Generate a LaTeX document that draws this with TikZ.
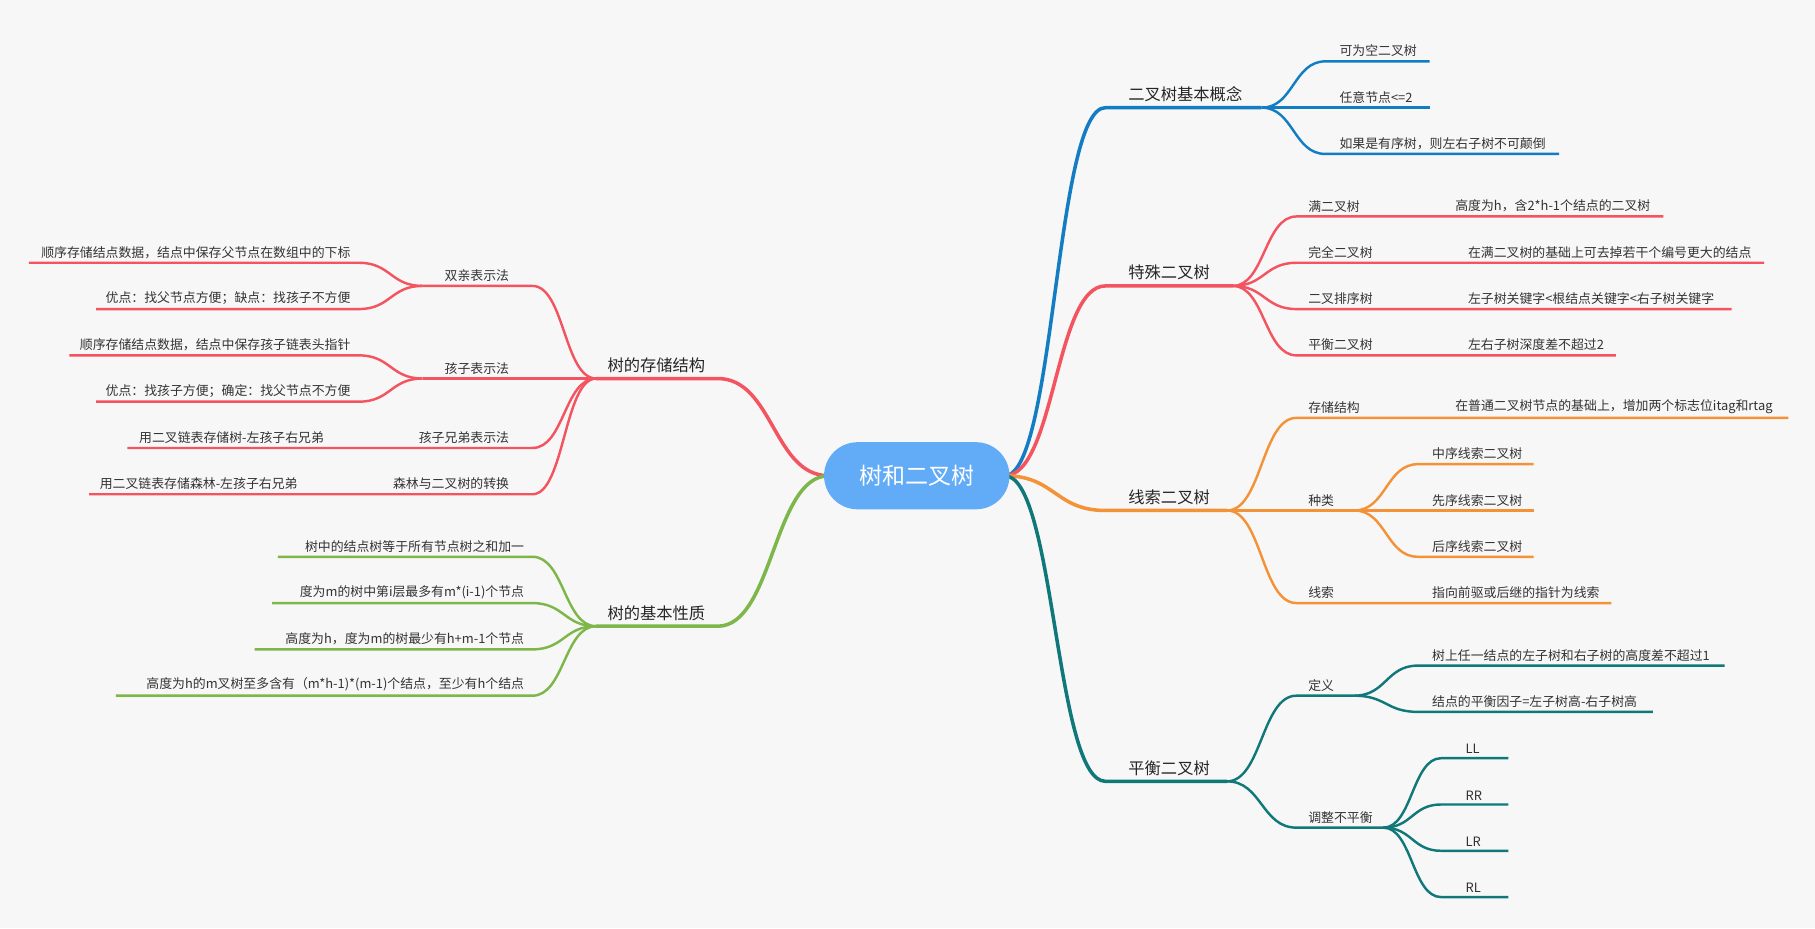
\documentclass[tikz,border=0pt]{standalone}
\usepackage{fontspec}
\setmainfont{Noto Sans CJK SC}
\usetikzlibrary{calc,shapes.misc}
\definecolor{cblue}{HTML}{137DC4}
\definecolor{cred}{HTML}{F4545F}
\definecolor{corange}{HTML}{F39237}
\definecolor{cteal}{HTML}{11787A}
\definecolor{cgreen}{HTML}{7DB649}
\definecolor{croot}{HTML}{62ABF6}
\definecolor{cbg}{HTML}{F7F7F7}
% leaf: colour, name, parent, start x, y, end x
\newcommand{\lf}[6]{%
  \coordinate (#2s) at (#4,#5); \coordinate (#2e) at (#6,#5);
  \draw[#1] let \p1=(#3), \p2=(#2s) in (\p1)
    .. controls (0.5*\x1+0.5*\x2,\y1) and (0.5*\x1+0.5*\x2,\y2) .. (\p2) -- (#2e);}
\begin{document}
\begin{tikzpicture}[x=0.03cm,y=-0.03cm,
    thickline/.style={line width=2.6pt},
    thinline/.style={line width=1.8pt},
    rtxt/.style={anchor=south west,inner sep=0pt,yshift=3pt,font=\fontsize{9.5}{11}\selectfont,text=black!80},
    ltxt/.style={anchor=south east,inner sep=0pt,yshift=3pt,font=\fontsize{9.5}{11}\selectfont,text=black!80},
    btxt/.style={inner sep=0pt,yshift=4pt,font=\fontsize{12}{14}\selectfont,text=black!85}]
  \fill[cbg] (0,0) rectangle (1568,802);
  \useasboundingbox (0,0) rectangle (1568,802);
  \coordinate (rootR) at (868,411);
  \coordinate (rootL) at (716,411);

  %二叉树基本概念
  \lf{cblue,thickline}{b1}{rootR}{955}{93}{1090}
  \node[btxt,anchor=south] at (1024,93) {二叉树基本概念};
  \lf{cblue,thinline}{b11}{b1e}{1145}{53}{1235}
  \node[rtxt] at (1157,53) {可为空二叉树};
  \lf{cblue,thinline}{b12}{b1e}{1145}{93}{1235}
  \node[rtxt] at (1157,93) {任意节点<=2};
  \lf{cblue,thinline}{b13}{b1e}{1145}{133}{1347}
  \node[rtxt] at (1157,133) {如果是有序树，则左右子树不可颠倒};

  %特殊二叉树
  \lf{cred,thickline}{b2}{rootR}{955}{247}{1065}
  \node[btxt,anchor=south] at (1010,247) {特殊二叉树};
  \lf{cred,thinline}{b21}{b2e}{1120}{187}{1437}
  \node[rtxt] at (1130,187) {满二叉树};
  \node[rtxt] at (1257,187) {高度为h，含2*h-1个结点的二叉树};
  \lf{cred,thinline}{b22}{b2e}{1120}{227}{1524}
  \node[rtxt] at (1130,227) {完全二叉树};
  \node[rtxt] at (1268,227) {在满二叉树的基础上可去掉若干个编号更大的结点};
  \lf{cred,thinline}{b23}{b2e}{1120}{267}{1496}
  \node[rtxt] at (1130,267) {二叉排序树};
  \node[rtxt] at (1268,267) {左子树关键字<根结点关键字<右子树关键字};
  \lf{cred,thinline}{b24}{b2e}{1120}{307}{1396}
  \node[rtxt] at (1130,307) {平衡二叉树};
  \node[rtxt] at (1268,307) {左右子树深度差不超过2};

  %线索二叉树
  \lf{corange,thickline}{b3}{rootR}{955}{441}{1060}
  \node[btxt,anchor=south] at (1010,441) {线索二叉树};
  \lf{corange,thinline}{b31}{b3e}{1120}{361}{1545}
  \node[rtxt] at (1130,361) {存储结构};
  \node[rtxt] at (1257,361) {在普通二叉树节点的基础上，增加两个标志位itag和rtag};
  \lf{corange,thinline}{b32}{b3e}{1120}{441}{1170}
  \node[rtxt] at (1130,441) {种类};
  \lf{corange,thinline}{b321}{b32e}{1225}{401}{1325}
  \node[rtxt] at (1237,401) {中序线索二叉树};
  \lf{corange,thinline}{b322}{b32e}{1225}{441}{1325}
  \node[rtxt] at (1237,441) {先序线索二叉树};
  \lf{corange,thinline}{b323}{b32e}{1225}{481}{1325}
  \node[rtxt] at (1237,481) {后序线索二叉树};
  \lf{corange,thinline}{b33}{b3e}{1120}{521}{1392}
  \node[rtxt] at (1130,521) {线索};
  \node[rtxt] at (1237,521) {指向前驱或后继的指针为线索};

  %平衡二叉树
  \lf{cteal,thickline}{b4}{rootR}{955}{675}{1060}
  \node[btxt,anchor=south] at (1010,675) {平衡二叉树};
  \lf{cteal,thinline}{b41}{b4e}{1120}{601}{1170}
  \node[rtxt] at (1130,601) {定义};
  \lf{cteal,thinline}{b411}{b41e}{1225}{575}{1490}
  \node[rtxt] at (1237,575) {树上任一结点的左子树和右子树的高度差不超过1};
  \lf{cteal,thinline}{b412}{b41e}{1225}{615}{1428}
  \node[rtxt] at (1237,615) {结点的平衡因子=左子树高-右子树高};
  \lf{cteal,thinline}{b42}{b4e}{1120}{715}{1195}
  \node[rtxt] at (1130,715) {调整不平衡};
  \foreach \t [count=\i] in {LL,RR,LR,RL}
  {
    \lf{cteal,thinline}{b42\i}{b42e}{1245}{615+40*\i}{1303}
    \node[rtxt] at (1266,615+40*\i) {\t};
  }

  %树的存储结构
  \lf{cred,thickline}{a1}{rootL}{620}{327}{515}
  \node[btxt,anchor=south] at (567,327) {树的存储结构};
  \lf{cred,thinline}{a11}{a1e}{460}{247}{365}
  \node[ltxt] at (440,247) {双亲表示法};
  \lf{cred,thinline}{a111}{a11e}{310}{227}{25}
  \node[ltxt] at (303,227) {顺序存储结点数据，结点中保存父节点在数组中的下标};
  \lf{cred,thinline}{a112}{a11e}{310}{267}{83}
  \node[ltxt] at (303,267) {优点：找父节点方便；缺点：找孩子不方便};
  \lf{cred,thinline}{a12}{a1e}{460}{327}{365}
  \node[ltxt] at (440,327) {孩子表示法};
  \lf{cred,thinline}{a121}{a12e}{310}{307}{60}
  \node[ltxt] at (303,307) {顺序存储结点数据，结点中保存孩子链表头指针};
  \lf{cred,thinline}{a122}{a12e}{310}{347}{83}
  \node[ltxt] at (303,347) {优点：找孩子方便；确定：找父节点不方便};
  \lf{cred,thinline}{a13}{a1e}{460}{387}{110}
  \node[ltxt] at (440,387) {孩子兄弟表示法};
  \node[rtxt] at (120,387) {用二叉链表存储树-左孩子右兄弟};
  \lf{cred,thinline}{a14}{a1e}{460}{427}{77}
  \node[ltxt] at (440,427) {森林与二叉树的转换};
  \node[rtxt] at (86,427) {用二叉链表存储森林-左孩子右兄弟};

  %树的基本性质
  \lf{cgreen,thickline}{a2}{rootL}{620}{541}{515}
  \node[btxt,anchor=south] at (567,541) {树的基本性质};
  \lf{cgreen,thinline}{a21}{a2e}{460}{481}{240}
  \node[ltxt] at (453,481) {树中的结点树等于所有节点树之和加一};
  \lf{cgreen,thinline}{a22}{a2e}{460}{521}{235}
  \node[ltxt] at (453,521) {度为m的树中第i层最多有m*(i-1)个节点};
  \lf{cgreen,thinline}{a23}{a2e}{460}{561}{220}
  \node[ltxt] at (453,561) {高度为h，度为m的树最少有h+m-1个节点};
  \lf{cgreen,thinline}{a24}{a2e}{460}{601}{100}
  \node[ltxt] at (453,601) {高度为h的m叉树至多含有（m*h-1)*(m-1)个结点，至少有h个结点};

  %根
  \node[rounded rectangle,fill=croot,minimum width=168*0.03cm,minimum height=58*0.03cm,
    text=white,font=\fontsize{17}{20}\selectfont] (root) at (792,411) {树和二叉树};
\end{tikzpicture}
\end{document}
